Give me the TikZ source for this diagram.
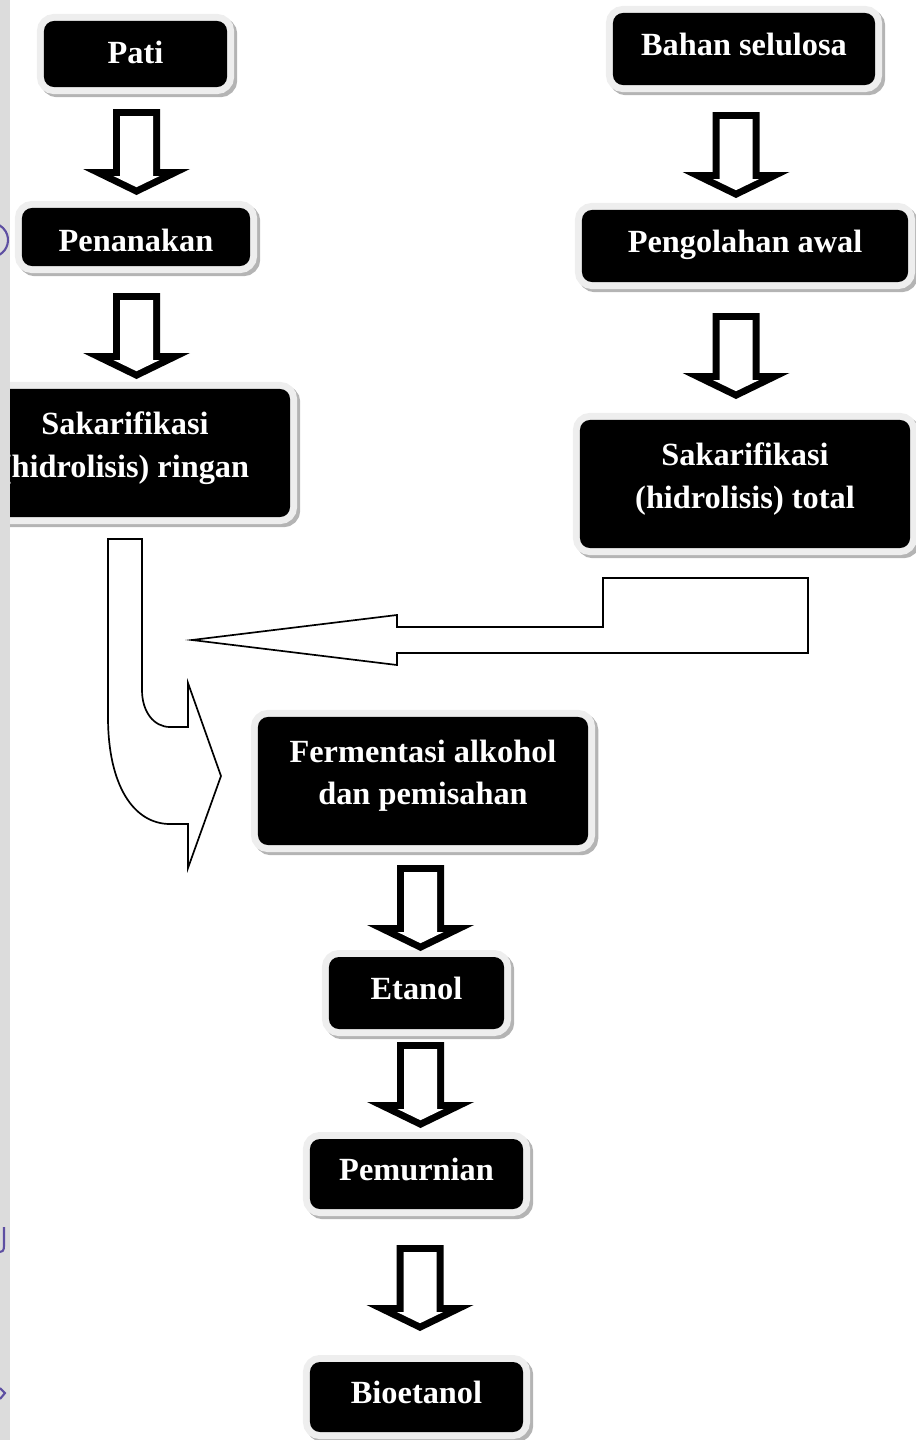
\documentclass[tikz,border=0pt]{standalone}
\usepackage{fontspec}
\setmainfont{Liberation Serif}
\usetikzlibrary{positioning,calc}

\definecolor{framegray}{HTML}{EEEEEE}
\definecolor{shadowgray}{HTML}{B4B4B4}
\definecolor{stripgray}{HTML}{DCDCDC}
\definecolor{markpurple}{HTML}{5E4FA2}

\begin{document}
\begin{tikzpicture}[x=0.025cm, y=-0.025cm,
  box/.style={fill=black, text=white, rounded corners=0.25cm, align=center,
    inner sep=0pt, text depth=7pt, font=\fontsize{23}{30}\selectfont\bfseries,
    preaction={draw=shadowgray, line width=0.35cm,
      transform canvas={shift={(0.08cm,-0.08cm)}}},
    preaction={draw=framegray, line width=0.35cm}},
  twoline/.style={box, text depth=12pt, minimum width=8.25cm, minimum height=3.2cm},
  flow/.style={draw=black, line width=1.2pt, fill=white, line join=miter},
  edgemark/.style={draw=markpurple, line width=1.5pt},
  downarrow/.pic={
    \fill[black] (-23.5,0) -- (-23.5,60) -- (-53.5,60) -- (0,86)
      -- (53.5,60) -- (23.5,60) -- (23.5,0) -- cycle;
    \fill[white] (-16.5,7) -- (-16.5,67) -- (-23.1,67) -- (0,78.2)
      -- (23.1,67) -- (16.5,67) -- (16.5,7) -- cycle;
  }]
  \useasboundingbox (0,0) rectangle (915,1440);

  % starch route
  \node[box, text depth=2pt, minimum width=4.575cm, minimum height=1.65cm] (pati) at (135.5,54) {Pati};
  \node[box, text depth=0pt, text height=20pt, minimum width=5.7cm, minimum height=1.45cm] (tanam) at (136,237) {Penanakan};
  \node[twoline] (sakringan) at (125,453) {Sakarifikasi\\(hidrolisis) ringan};

  % cellulose route
  \node[box, minimum width=6.55cm, minimum height=1.8cm] (selulosa) at (744,49) {Bahan selulosa};
  \node[box, minimum width=8.15cm, minimum height=1.8cm] (olah) at (745,246) {Pengolahan awal};
  \node[twoline] (saktotal) at (745,484) {Sakarifikasi\\(hidrolisis) total};

  % common part
  \node[twoline] (ferment) at (423,781) {Fermentasi alkohol\\dan pemisahan};
  \node[box, minimum width=4.375cm, minimum height=1.8cm] (etanol) at (416.5,993) {Etanol};
  \node[box, minimum width=5.325cm, minimum height=1.75cm] (murni) at (416.5,1174) {Pemurnian};
  \node[box, minimum width=5.325cm, minimum height=1.75cm] (bioetanol) at (416.5,1397) {Bioetanol};

  % block arrows
  \pic at (136.5,109) {downarrow};
  \pic at (136.5,293) {downarrow};
  \pic at (736,112) {downarrow};
  \pic at (736,313) {downarrow};
  \pic at (420.5,865) {downarrow};
  \pic at (420.5,1042) {downarrow};
  \pic at (420,1245) {downarrow};

  % bent arrow from the right
  \draw[flow] (192,640) -- (397,615) -- (397,627) -- (603,627) -- (603,578)
    -- (808,578) -- (808,653) -- (397,653) -- (397,665) -- cycle;

  % curved arrow on the left
  \draw[flow] (108,539) -- (142,539) -- (142,690)
    .. controls (142,712) and (154,727) .. (170,727) -- (188,727) -- (188,683)
    -- (221,776) -- (188,868) -- (188,824) -- (170,824)
    .. controls (134,824) and (108,786) .. (108,717) -- cycle;

  % page edge
  \fill[stripgray] (0,0) rectangle (10,1440);
  \draw[edgemark] (-9,240) ++(-60:0.425cm) arc[start angle=-60, end angle=60, radius=0.425cm];
  \draw[edgemark] (4,1227) -- (4,1246) .. controls (4,1251) and (2,1252) .. (0,1252);
  \draw[edgemark] (0,1388) -- (5,1393) -- (0,1399);
\end{tikzpicture}
\end{document}
